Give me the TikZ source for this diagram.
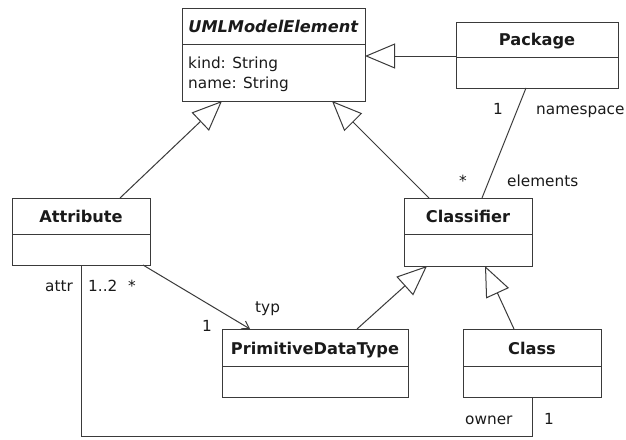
\documentclass[tikz,border=0pt]{standalone}
\usepackage{fontspec}
\setmainfont{DejaVu Sans}
\usetikzlibrary{arrows.meta,calc}
\definecolor{linec}{HTML}{3A3A3A}
\definecolor{txtc}{HTML}{1A1A1A}
\begin{document}
\begin{tikzpicture}[x=1pt,y=-1pt,
  box/.style={draw=linec, line width=1pt, fill=white, inner sep=0pt, outer sep=0pt},
  divider/.style={draw=linec, line width=1pt},
  hdr/.style={inner sep=0pt, text=txtc, font=\fontsize{16.2}{18}\selectfont\bfseries, anchor=base},
  lbl/.style={inner sep=0pt, text=txtc, font=\fontsize{15.3}{17}\selectfont, anchor=base},
  gen/.style={draw=linec, line width=1pt, -{Triangle[open,length=30pt,width=25pt,line width=1pt]}},
  assoc/.style={draw=linec, line width=1pt},
  nav/.style={draw=linec, line width=1pt, -{Straight Barb[length=7pt,width=9pt,line width=1pt]}}]
\useasboundingbox (0,0) rectangle (626,439);
\fill[white] (0,0) rectangle (626,439);

% UMLModelElement
\node[box, minimum width=183pt, minimum height=93pt] (ume) at (273.5,54.5) {};
\draw[divider] ([yshift=-36]ume.north west) -- ([yshift=-36]ume.north east);
\node[hdr] (umeT) at ([yshift=-24]ume.north) {\textit{UMLModelElement}};
\node[lbl, anchor=base west] (umeA1) at ([xshift=6,yshift=-60]ume.north west) {kind: String};
\node[lbl, anchor=base west] (umeA2) at ([xshift=6,yshift=-80]ume.north west) {name: String};

% Package
\node[box, minimum width=162pt, minimum height=66pt] (pkg) at (537,55) {};
\draw[divider] ([yshift=-35]pkg.north west) -- ([yshift=-35]pkg.north east);
\node[hdr] (pkgT) at ([yshift=-23]pkg.north) {Package};

% Attribute
\node[box, minimum width=138pt, minimum height=67pt] (attr) at (81,231.5) {};
\draw[divider] ([yshift=-36]attr.north west) -- ([yshift=-36]attr.north east);
\node[hdr] (attrT) at ([yshift=-24]attr.north) {Attribute};

% Classifier
\node[box, minimum width=128pt, minimum height=68pt] (cls) at (468,232) {};
\draw[divider] ([yshift=-36]cls.north west) -- ([yshift=-36]cls.north east);
\node[hdr] (clsT) at ([yshift=-24]cls.north) {Classifier};

% PrimitiveDataType
\node[box, minimum width=186pt, minimum height=68pt] (pdt) at (315,363) {};
\draw[divider] ([yshift=-37]pdt.north west) -- ([yshift=-37]pdt.north east);
\node[hdr] (pdtT) at ([yshift=-25]pdt.north) {PrimitiveDataType};

% Class
\node[box, minimum width=138pt, minimum height=68pt] (clas) at (532,363) {};
\draw[divider] ([yshift=-37]clas.north west) -- ([yshift=-37]clas.north east);
\node[hdr] (clasT) at ([yshift=-25]clas.north) {Class};

% generalizations
\draw[gen] ([xshift=108]attr.north west) -- ([xshift=40]ume.south west);
\draw[gen] ([xshift=25]cls.north west) -- ([xshift=150]ume.south west);
\coordinate (pkgL) at ([yshift=-34]pkg.north west);
\draw[gen] (pkgL) -- (pkgL -| ume.east);
\draw[gen] ([xshift=135]pdt.north west) -- ([xshift=23]cls.south west);
\draw[gen] ([xshift=51]clas.north west) -- ([xshift=81]cls.south west);

% associations
\draw[assoc] ([xshift=70]pkg.south west) -- ([xshift=78]cls.north west);
\draw[nav] ([xshift=131]attr.south west) -- ([xshift=28]pdt.north west);
\draw[assoc] ([xshift=69]attr.south west) -- ++(0,171) -| (clas.south);

% association labels
\node[lbl] (l1) at (498,114) {1};
\node[lbl, anchor=base west] (lns) at (536,114) {namespace};
\node[lbl] (lst1) at (463,186) {*};
\node[lbl, anchor=base west] (lel) at (507,186) {elements};
\node[lbl, anchor=base west] (lattr) at (45,291) {attr};
\node[lbl, anchor=base west] (l12) at (88,291) {1..2};
\node[lbl] (lst2) at (132,291) {*};
\node[lbl, anchor=base west] (ltyp) at (255,312) {typ};
\node[lbl] (l2) at (207,331) {1};
\node[lbl, anchor=base west] (lown) at (465,424) {owner};
\node[lbl] (l3) at (549,424) {1};
\end{tikzpicture}
\end{document}
